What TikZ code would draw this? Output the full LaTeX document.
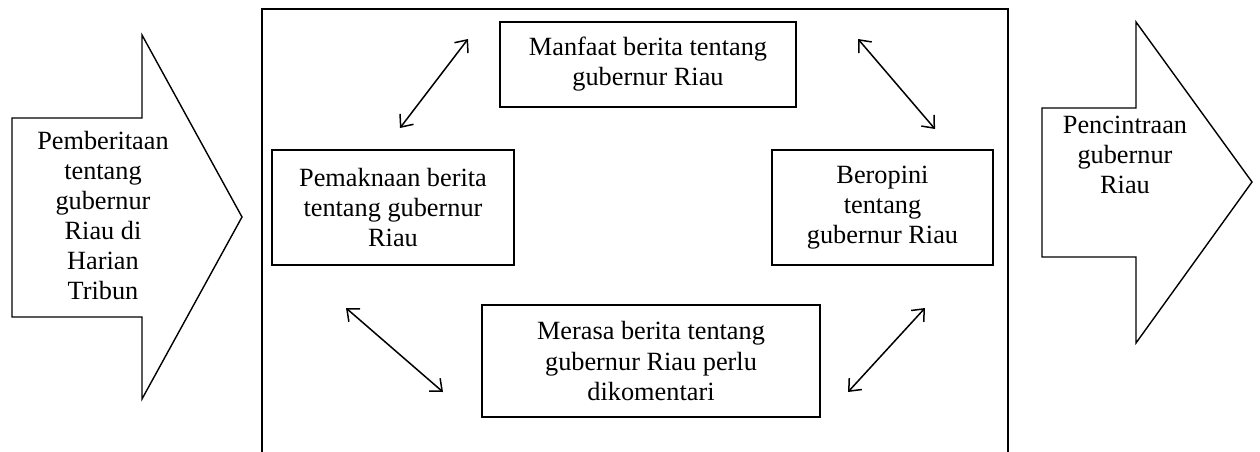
\documentclass[tikz,border=0pt]{standalone}
\usepackage{fontspec}
\setmainfont{Liberation Serif}
\usetikzlibrary{arrows.meta}

\tikzset{
    kotak/.style = {draw, line width = 1.3pt, align = center, inner sep = 0pt},
    teks/.style = {align = center, inner sep = 0pt},
    duaarah/.style = {{Straight Barb[length=10pt,width=17pt]}-{Straight Barb[length=10pt,width=17pt]}, line width = 1.5pt}
}

\begin{document}
\begin{tikzpicture}[x = 1pt, y = -1pt, font = \fontsize{26.3}{30}\selectfont]
%\draw [help lines, step = 50] (0,0) grid (1260,452);
    \useasboundingbox (0,0) rectangle (1260,452);
    % panah masuk dan keluar
    \draw [line width = 1.4pt] (12,118) -- (142,118) -- (142,35) -- (242,217) -- (142,399) -- (142,317) -- (12,317) -- cycle;
    \draw [line width = 1.4pt] (1042,108) -- (1136,108) -- (1136,22) -- (1252,182) -- (1136,343) -- (1136,257) -- (1042,257) -- cycle;
    \node [teks] (berita) at (103,216) {Pemberitaan\\tentang\\gubernur\\Riau di\\Harian\\Tribun};
    \node [teks] (citra) at (1125,155) {Pencintraan\\gubernur\\Riau};
    % bingkai tengah
    \draw [line width = 2pt] (262,452) -- (262,9) -- (1008,9) -- (1008,452);
    \node [kotak, minimum width = 296, minimum height = 85] (manfaat) at (648,64.5) {Manfaat berita tentang\\gubernur Riau};
    \node [kotak, minimum width = 242, minimum height = 115] (makna) at (393,207.5) {Pemaknaan berita\\tentang gubernur\\Riau};
    \node [kotak, minimum width = 221, minimum height = 115] (opini) at (882.5,207.5) {Beropini\\tentang\\gubernur Riau};
    \node [kotak, minimum width = 338, minimum height = 112] (komentar) at (651,361) {Merasa berita tentang\\gubernur Riau perlu\\dikomentari};
    % panah dua arah
    \coordinate (a1) at (400,128);  \coordinate (a2) at (468,39);
    \coordinate (b1) at (858,39);   \coordinate (b2) at (935,129);
    \coordinate (c1) at (346,308);  \coordinate (c2) at (443,392);
    \coordinate (d1) at (925,308);  \coordinate (d2) at (848,392);
    \draw [duaarah] (a1) -- (a2);
    \draw [duaarah] (b1) -- (b2);
    \draw [duaarah] (c1) -- (c2);
    \draw [duaarah] (d1) -- (d2);
\end{tikzpicture}
\end{document}
